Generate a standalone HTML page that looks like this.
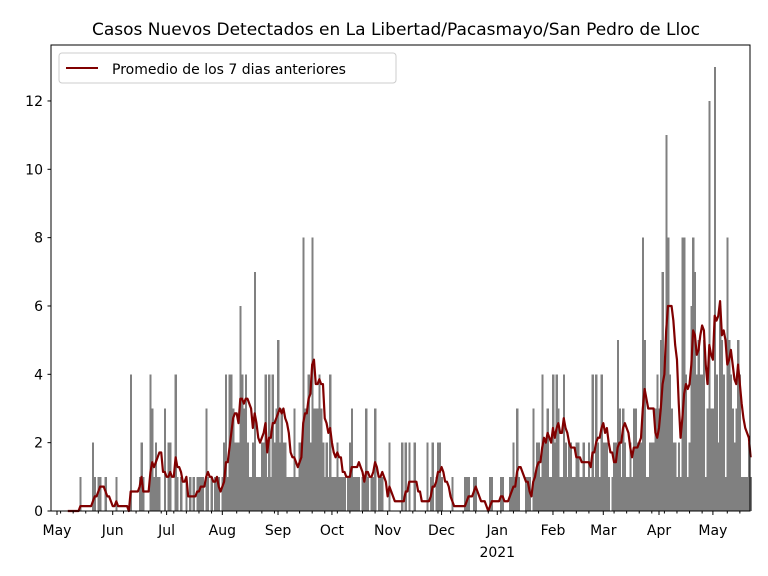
<!DOCTYPE html>
<html><head><meta charset="utf-8">
<style>
body{margin:0;background:#fff;}
svg{display:block;font-family:"DejaVu Sans","Liberation Sans",sans-serif;}
</style></head>
<body>
<svg id="chart" width="768" height="576">
<text x="396" y="35" text-anchor="middle" font-size="17" fill="#000">Casos Nuevos Detectados en La Libertad/Pacasmayo/San Pedro de Lloc</text>
<g id="bars" shape-rendering="crispEdges"></g>
<g id="line"></g>
<rect x="51" y="45" width="699" height="466" fill="none" stroke="#000" stroke-width="1"/>
<g id="yaxis"></g>
<g id="xaxis"></g>
<g>
<rect x="59" y="53" width="337" height="30" rx="3" fill="#fff" fill-opacity="0.8" stroke="#ccc"/>
<line x1="66" y1="68" x2="98" y2="68" stroke="#800000" stroke-width="2"/>
<text x="112" y="74" font-size="14" fill="#000">Promedio de los 7 dias anteriores</text>
</g>
</svg>
<script>
const dailyCases = [
0,0,0,0,0,0,0,0,0,0,
0,0,0,1,0,0,0,0,0,0,
2,1,0,1,1,0,0,1,0,0,
0,0,0,1,0,0,0,0,0,0,
0,4,0,0,0,0,1,2,1,0,
0,0,4,3,1,2,1,1,0,0,
3,0,2,2,0,0,4,1,0,1,
0,0,1,0,1,0,1,0,1,1,
1,1,0,3,1,0,1,0,1,1,
1,0,1,2,4,1,4,4,3,2,
2,2,6,4,3,4,2,1,1,2,
7,1,1,1,2,2,4,1,4,1,
4,2,3,5,2,3,2,2,1,1,
1,1,3,1,1,2,2,8,3,3,
4,2,8,3,3,3,4,3,2,1,
2,1,4,1,1,1,2,1,1,1,
1,0,1,2,3,1,1,1,1,0,
1,1,3,1,0,1,1,3,0,1,
1,1,0,0,0,2,0,0,0,0,
0,0,2,0,2,0,2,0,0,2,
0,0,0,0,0,0,2,0,1,2,
0,1,2,2,1,0,0,0,0,0,
1,0,0,0,0,0,0,1,1,1,
0,0,1,1,0,0,0,0,0,0,
0,1,1,0,0,0,0,1,1,0,
0,0,1,1,2,1,3,1,0,0,
0,1,1,1,0,3,1,2,2,1,
4,2,2,3,1,1,4,2,4,3,
1,1,4,2,1,2,2,1,1,2,
2,1,1,2,1,1,2,1,4,1,
4,2,1,4,2,2,2,1,0,1,
2,2,5,3,1,3,2,1,1,2,
1,3,3,2,2,2,8,5,1,1,
2,2,2,3,4,3,5,7,4,11,
8,4,3,2,2,1,2,1,8,8,
4,1,2,6,8,7,4,5,4,4,
5,1,3,12,3,3,13,4,2,6,
5,4,1,8,5,4,3,2,3,5,
4,1,1,1,1,2,1
];
const yTicks = [0,2,4,6,8,10,12];
const monthLabels = ["May","Jun","Jul","Aug","Sep","Oct","Nov","Dec","Jan","Feb","Mar","Apr","May"];
const monthDays = [0,31,61,92,123,153,184,214,245,276,304,335,365];
const windowSize = [7];

const NS="http://www.w3.org/2000/svg";
const X0=57, PXD=1.797, Y0=511, PYU=34.17;
const xs=d=>X0+d*PXD;
const ys=v=>Y0-v*PYU;
function mk(tag,attrs,parent){const e=document.createElementNS(NS,tag);for(const k in attrs)e.setAttribute(k,attrs[k]);parent.appendChild(e);return e;}

const bars=document.getElementById('bars');
dailyCases.forEach((v,i)=>{
  if(v<=0)return;
  const r=mk('rect',{x:xs(i)-PXD/2,y:ys(v),width:PXD+0.4,height:v*PYU,fill:'#808080'},bars);
  
  
});

const w=windowSize[0];
let pts=[];
for(let i=w-1;i<dailyCases.length;i++){
  let s=0;for(let k=i-w+1;k<=i;k++)s+=dailyCases[k];
  pts.push(xs(i).toFixed(2)+','+ys(s/w).toFixed(2));
}
const pl=mk('polyline',{points:pts.join(' '),fill:'none',stroke:'#800000','stroke-width':2.2,'stroke-linejoin':'round'},document.getElementById('line'));



const ya=document.getElementById('yaxis');
yTicks.forEach(t=>{
  const y=ys(t);
  mk('line',{x1:47.5,x2:51,y1:y,y2:y,stroke:'#000'},ya);
  const tx=mk('text',{x:43,y:y+5,'text-anchor':'end','font-size':14},ya);
  tx.textContent=t;
  
  
});

const xa=document.getElementById('xaxis');
for(let d=2;d<386;d+=7){
  if(monthDays.some(m=>Math.abs(m-d)<2))continue;
  mk('line',{x1:xs(d),x2:xs(d),y1:511,y2:513.5,stroke:'#000'},xa);
}
monthDays.forEach((d,i)=>{
  const x=xs(d);
  mk('line',{x1:x,x2:x,y1:511,y2:515,stroke:'#000'},xa);
  const tx=mk('text',{x:x,y:535,'text-anchor':'middle','font-size':14},xa);
  tx.textContent=monthLabels[i];
  
  
});
const yr=mk('text',{x:xs(245),y:557,'text-anchor':'middle','font-size':14},xa);
yr.textContent='2021';


</script>
</body></html>
